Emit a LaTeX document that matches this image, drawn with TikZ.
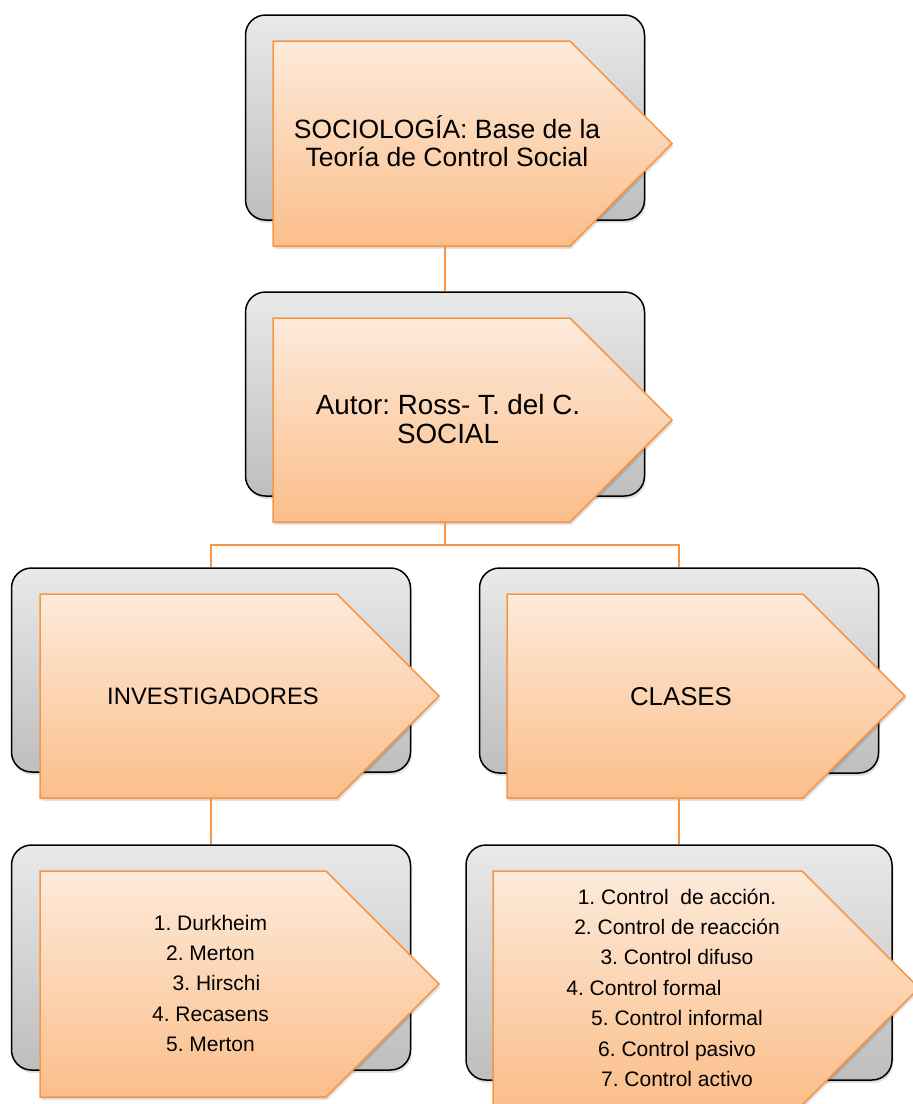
\documentclass[tikz,border=0pt]{standalone}
\usepackage{fontspec}
\setmainfont{Liberation Sans}
\frenchspacing

\definecolor{grayTop}{HTML}{E9E9E9}
\definecolor{grayBot}{HTML}{BEBEBE}
\definecolor{peachTop}{HTML}{FDEADA}
\definecolor{peachBot}{HTML}{FBBE8A}
\definecolor{orangeLine}{HTML}{F79646}

\tikzset{
  softshadow/.style={preaction={fill=black, opacity=0.10,
      transform canvas={xshift=1.5pt, yshift=-3pt}},
    preaction={fill=black, opacity=0.08,
      transform canvas={xshift=0.5pt, yshift=-1.5pt}}},
  graybox/.style={draw=black, line width=1.5pt, rounded corners=20pt,
    top color=grayTop, bottom color=grayBot, minimum width=399pt,
    minimum height=204pt, inner sep=0pt, softshadow},
  pent/.style={draw=orangeLine, line width=1.5pt, top color=peachTop,
    bottom color=peachBot, softshadow},
  link/.style={draw=orangeLine, line width=1.6pt, shorten >=0.75pt},
  lbl/.style={anchor=base, inner sep=0pt, text=black},
}

\begin{document}
\begin{tikzpicture}[x=1pt, y=-1pt]
  \useasboundingbox (0,0) rectangle (913,1104);
  \clip (0,0) rectangle (913,1104);

  % gray back boxes
  \node[graybox, minimum height=205pt] (g1) at (445,117.5) {};
  \node[graybox] (g2) at (445,394) {};
  \node[graybox] (g3) at (211,670) {};
  \node[graybox, minimum height=205pt] (g4) at (679,670.5) {};
  \node[graybox, minimum height=225pt] (g5) at (211,957.5) {};
  \node[graybox, minimum width=426pt, minimum height=235pt] (g6) at (679,962.5) {};

  % pentagon arrows (with the midpoints of their lower edges)
  \draw[pent] (273,41) -- (570,41) -- (672,143.5) -- (570,246) -- (273,246) -- cycle;
  \coordinate (p1) at (445,246);
  \draw[pent] (273,318) -- (570,318) -- (672,420) -- (570,522) -- (273,522) -- cycle;
  \coordinate (p2) at (445,522);
  \draw[pent] (40,594) -- (337,594) -- (439,696) -- (337,798) -- (40,798) -- cycle;
  \coordinate (p3) at (211,798);
  \draw[pent] (507,594) -- (803,594) -- (905,696) -- (803,798) -- (507,798) -- cycle;
  \coordinate (p4) at (679,798);
  \draw[pent] (40,871) -- (326,871) -- (439,984) -- (326,1097) -- (40,1097) -- cycle;
  \draw[pent] (493,871) -- (802,871) -- (919,988) -- (802,1105) -- (493,1105) -- cycle;

  % connectors
  \coordinate (split) at (445,545);
  \draw[link] (p1) -- (g2.north);
  \draw[link, shorten >=0pt] (p2) -- (split);
  \draw[link, shorten <=0.75pt, shorten >=0.75pt] (g3.north) |- (split) -| (g4.north);
  \draw[link] (p3) -- (g5.north);
  \draw[link] (p4) -- (g6.north);

  % texts
  \node[lbl, font=\fontsize{26.5}{28}\selectfont] (t1) at (447,138)
    {\begin{tabular}[t]{@{}c@{}}SOCIOLOGÍA: Base de la\\Teoría de Control Social\end{tabular}};
  \node[lbl, font=\fontsize{27.8}{29}\selectfont] (t2) at (448,414)
    {\begin{tabular}[t]{@{}c@{}}Autor: Ross- T. del C.\\SOCIAL\end{tabular}};
  \node[lbl, font=\fontsize{23.8}{28}\selectfont] (t3) at (213,704) {INVESTIGADORES};
  \node[lbl, font=\fontsize{25.8}{28}\selectfont] (t4) at (681,705) {CLASES};
  \node[lbl, font=\fontsize{21}{30.4}\selectfont] (t5) at (210.5,930)
    {\begin{tabular}[t]{@{}c@{}}1. Durkheim\\2. Merton\\\hspace*{12pt}3. Hirschi\\4. Recasens\\5. Merton\end{tabular}};
  \node[lbl, font=\fontsize{21}{30.4}\selectfont] (t6) at (677,904)
    {\begin{tabular}[t]{@{}c@{}}1. Control~ de acción.\\2. Control de reacción\\3. Control difuso\\4. Control formal\hspace*{66pt}\\5. Control informal\\6. Control pasivo\\7. Control activo\end{tabular}};
\end{tikzpicture}
\end{document}
